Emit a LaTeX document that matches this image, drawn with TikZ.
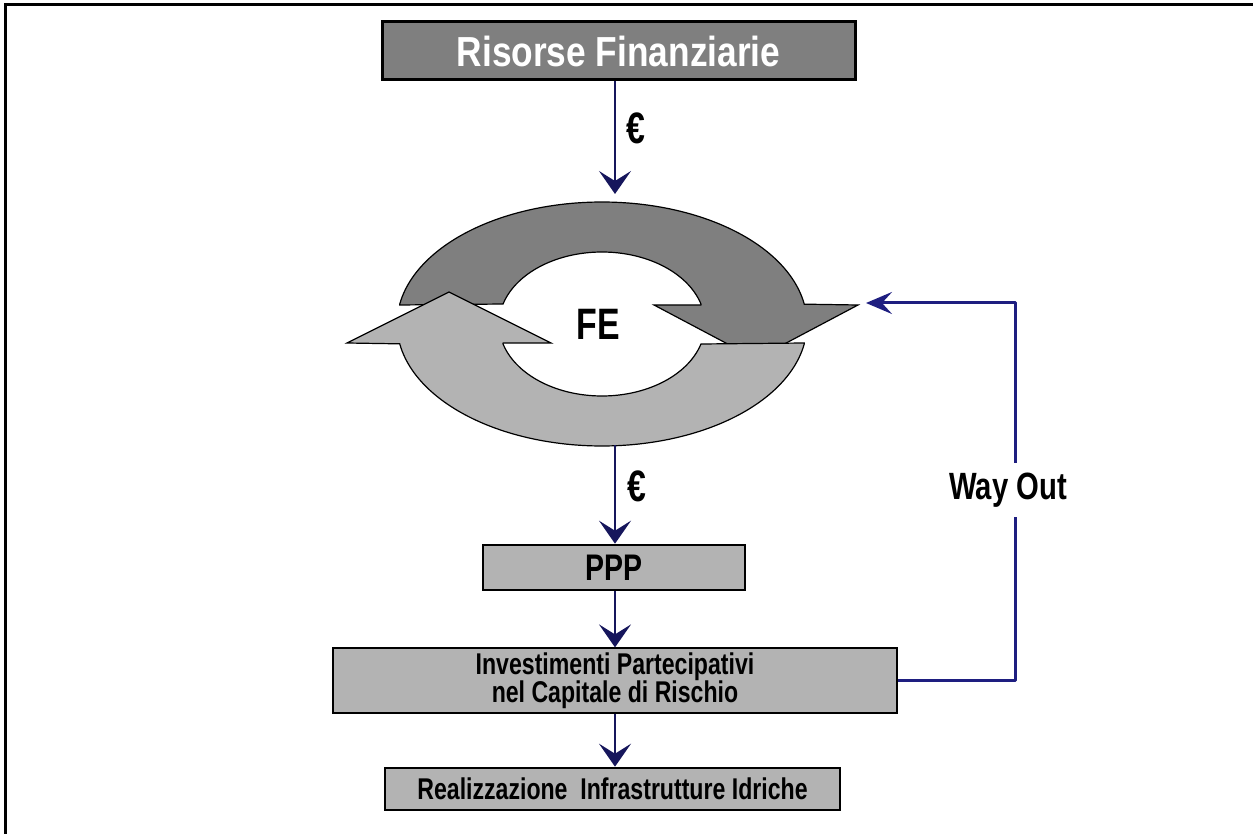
\documentclass[tikz,border=0pt]{standalone}
\usepackage{fontspec}
\setmainfont{Liberation Sans}
\newfontfamily\cf{Liberation Sans}[FakeStretch=0.77]
\newfontfamily\cfw{Liberation Sans}[FakeStretch=0.84]
\usetikzlibrary{arrows.meta}
\definecolor{darkfill}{HTML}{7F7F7F}
\definecolor{lightfill}{HTML}{B3B3B3}
\definecolor{navy}{HTML}{16165C}
\definecolor{wayblue}{HTML}{1E1E80}
\begin{document}
\begin{tikzpicture}[x=0.5pt, y=-0.5pt,
  boxbase/.style={draw=black, inner sep=0pt, align=center},
  darkbox/.style={boxbase, fill=darkfill, line width=1.5pt},
  lightbox/.style={boxbase, fill=lightfill, line width=1.3pt},
  thinbox/.style={boxbase, fill=lightfill, line width=0.6pt},
  flow/.style={draw=navy, line width=1pt, -{Stealth[length=11.5pt,width=16pt,inset=5pt]}},
  wayline/.style={draw=wayblue, line width=1.5pt, line join=round, -{Stealth[length=13pt,width=11pt,inset=5pt]}},
  band/.style={draw=black, line width=0.6pt},
  lbl/.style={inner sep=0pt, font=\cf\bfseries\fontsize{22}{25}\selectfont}
]
\useasboundingbox (0,0) rectangle (1253,834);
\draw[line width=1.5pt] (1253,5) -- (5,5) -- (5,834);

% boxes
\node[darkbox, minimum width=236.5pt, minimum height=29pt] (rf) at (618.5,51)
  {\cfw\bfseries\fontsize{21}{24}\selectfont\color{white}Risorse Finanziarie};
\node[lightbox, minimum width=131pt, minimum height=22.5pt] (ppp) at (614,567.5)
  {\cf\bfseries\fontsize{18.5}{20}\selectfont PPP};
\node[thinbox, minimum width=282pt, minimum height=32.5pt] (inv) at (615,680.5)
  {\cf\bfseries\fontsize{15}{18.5}\selectfont Investimenti Partecipativi\\[-1pt]
   \cf\bfseries\fontsize{15}{18.5}\selectfont nel Capitale di Rischio};
\node[lightbox, minimum width=227.5pt, minimum height=21pt] (real) at (612.5,789)
  {\cf\bfseries\fontsize{15}{18}\selectfont Realizzazione~~Infrastrutture Idriche};

% ring
\filldraw[band, fill=darkfill] (399.8,305)
  -- plot[domain=189.36:350.64, samples=90] ({602+205*cos(\x)},{324+122*sin(\x)})
  -- (858,305) -- (756,359) -- (654,305) -- (700.9,305)
  -- plot[domain=343.87:196.13, samples=90] ({602+103*cos(\x)},{324+72*sin(\x)})
  -- cycle;
\filldraw[band, fill=lightfill] (804.2,343)
  -- plot[domain=9.36:170.64, samples=90] ({602+205*cos(\x)},{324+122*sin(\x)})
  -- (347,343) -- (449,292) -- (551,343) -- (503.1,343)
  -- plot[domain=163.87:16.13, samples=90] ({602+103*cos(\x)},{324+72*sin(\x)})
  -- cycle;
\node[lbl] (fe) at (598,324) {FE};

% connectors
\coordinate (ringtop) at (615,194);
\coordinate (ringbot) at (615,445);
\draw[flow] (rf.south -| ringtop) -- (ringtop);
\node[lbl] (eu1) at (636,128) {€};
\draw[flow] (ringbot) -- (ppp.north -| ringbot);
\node[lbl] (eu2) at (637,486) {€};
\draw[flow] (ppp.south -| ringbot) -- (inv.north -| ringbot);
\draw[flow] (inv.south -| ringbot) -- (real.north -| ringbot);

\coordinate (wc) at (1015,303);
\coordinate (wtip) at (866,303);
\draw[wayline] (inv.east) -| (wc) -- (wtip);
\node[fill=white, inner xsep=1pt, inner ysep=5pt, font=\cf\bfseries\fontsize{19}{21}\selectfont] (wo) at (1008,490) {Way Out};
\end{tikzpicture}
\end{document}
